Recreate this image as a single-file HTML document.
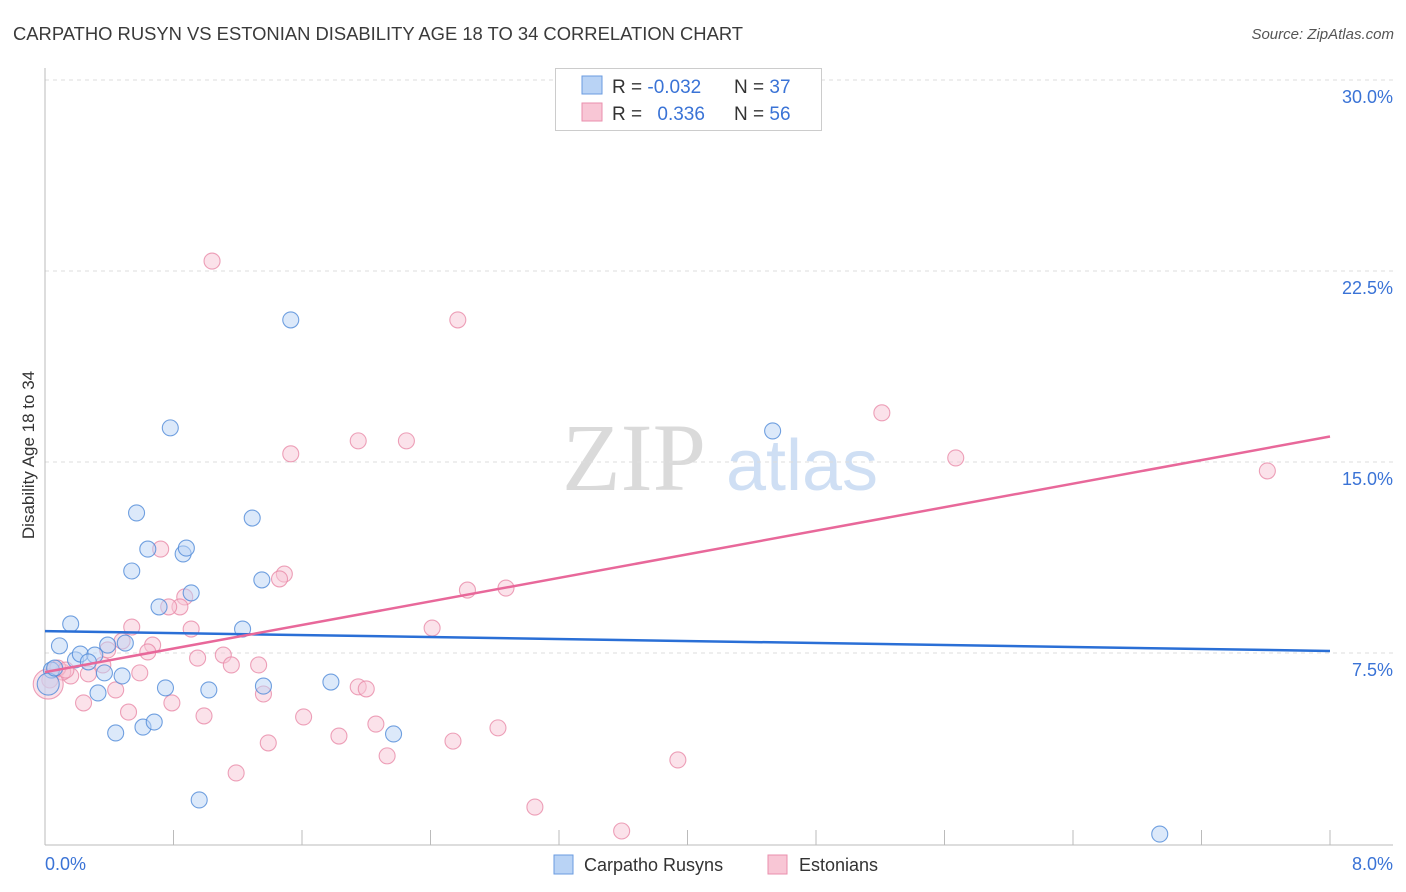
<!DOCTYPE html>
<html><head><meta charset="utf-8"><style>
body{margin:0;background:#fff;font-family:"Liberation Sans",sans-serif;}
#wrap{position:relative;width:1406px;height:892px;overflow:hidden;}
</style></head><body>
<div id="wrap">
<svg id="svg" width="1406" height="892" xmlns="http://www.w3.org/2000/svg">
<text x="13" y="40" font-size="18.4" fill="#3a3a3a">CARPATHO RUSYN VS ESTONIAN DISABILITY AGE 18 TO 34 CORRELATION CHART</text>
<text x="1394" y="39" font-size="15" fill="#555" font-style="italic" text-anchor="end">Source: ZipAtlas.com</text>
<text x="634" y="490" font-size="96" fill="#dadada" font-family="Liberation Serif,serif" text-anchor="middle">ZIP</text>
<text x="802" y="490" font-size="72" fill="#cfdff4" text-anchor="middle">atlas</text>
<text transform="translate(34,455) rotate(-90)" font-size="17" fill="#333" text-anchor="middle">Disability Age 18 to 34</text>
<g id="grid"></g><g id="axes"></g><g id="pts"></g><g id="lines"></g>
<g>
<rect x="555.5" y="68.5" width="266" height="62" fill="#fff" stroke="#ccc"/>
<rect x="582" y="76" width="20" height="18" fill="#b9d3f5" stroke="#6a9be0"/>
<rect x="582" y="103" width="20" height="18" fill="#f8c6d5" stroke="#ea8fad"/>
<text x="612" y="93" font-size="19" fill="#333">R = <tspan fill="#3a73d6">-0.032</tspan></text>
<text x="734" y="93" font-size="19" fill="#333">N = <tspan fill="#3a73d6">37</tspan></text>
<text x="612" y="120" font-size="19" fill="#333">R = <tspan fill="#3a73d6" dx="10">0.336</tspan></text>
<text x="734" y="120" font-size="19" fill="#333">N = <tspan fill="#3a73d6">56</tspan></text>
</g>
<g>
<rect x="554" y="855" width="19" height="19" fill="#b9d3f5" stroke="#6a9be0"/>
<text x="584" y="871" font-size="18" fill="#333">Carpatho Rusyns</text>
<rect x="768" y="855" width="19" height="19" fill="#f8c6d5" stroke="#ea8fad"/>
<text x="799" y="871" font-size="18" fill="#333">Estonians</text>
</g>
</svg>
</div>
<script>
const yTicks=[7.5,15,22.5,30];
const yTickLabels=["7.5%","15.0%","22.5%","30.0%"];
const xTicks=[0,0.8,1.6,2.4,3.2,4,4.8,5.6,6.4,7.2,8];
const blueX=[.04,.09,.16,.19,.22,.31,.33,.37,.39,.44,.48,.50,.54,.57,.61,.64,.68,.71,.75,.78,.86,.88,.91,.96,1.02,1.23,1.29,1.35,1.36,1.53,1.78,2.17,4.53,6.94,.02,.06,.27];
const blueY=[6.83,7.78,8.64,7.23,7.46,7.42,5.93,6.72,7.81,4.36,6.60,7.89,10.72,13.00,4.59,11.58,4.79,9.31,6.13,16.34,11.39,11.62,9.86,1.73,6.05,8.44,12.80,10.37,6.20,20.58,6.36,4.32,16.22,0.39,6.28,6.91,7.15];
const pinkX=[1.04,2.57,5.21,5.67,7.61,1.95,2.25,1.53,.72,1.49,1.46,2.63,2.87,.87,.84,.77,2.41,.91,.54,.67,.48,.64,1.11,.95,1.16,1.33,.36,.27,.16,.11,.06,.03,.59,.44,1.95,2.00,1.36,.79,.24,.52,1.61,.99,2.06,2.82,1.83,1.39,2.54,2.13,3.94,1.19,3.05,3.59,.02,.08,.13,.39];
const pinkY=[22.89,20.58,16.93,15.16,14.65,15.83,15.83,15.32,11.58,10.60,10.41,9.97,10.05,9.70,9.31,9.31,8.48,8.44,8.52,7.81,7.97,7.54,7.42,7.30,7.03,7.03,7.03,6.68,6.60,6.75,6.83,6.44,6.72,6.05,6.17,6.09,5.89,5.54,5.54,5.18,4.99,5.03,4.71,4.56,4.24,3.97,4.04,3.46,3.30,2.79,1.45,0.51,6.28,6.91,6.83,7.62];
const blueTrend=[8.36,7.58];
const pinkTrend=[6.75,16.0];
const NS="http://www.w3.org/2000/svg";
function sx(v){return 45+v/8*1285;}
function sy(v){return 844-v/7.5*191;}
function mk(t,a,p){const e=document.createElementNS(NS,t);for(const k in a)e.setAttribute(k,a[k]);p.appendChild(e);return e;}
const grid=document.getElementById('grid'),axes=document.getElementById('axes'),pts=document.getElementById('pts'),lines=document.getElementById('lines');
yTicks.forEach((v,i)=>{
 const l=mk('line',{x1:45,x2:1393,y1:sy(v),y2:sy(v),stroke:'#ddd','stroke-dasharray':'4,4'},grid);
 
 
 const t=mk('text',{x:1393,y:sy(v)+23,'font-size':18,fill:'#3a73d6','text-anchor':'end'},grid);
 t.textContent=yTickLabels[i];
 
 
});
const ya=mk('line',{x1:45,x2:45,y1:68,y2:845,stroke:'#bbb'},axes);


const xa=mk('line',{x1:45,x2:1393,y1:845,y2:845,stroke:'#bbb'},axes);


xTicks.forEach(v=>{
 const t=mk('line',{x1:sx(v),x2:sx(v),y1:830,y2:845,stroke:'#bbb'},axes);
 
 
});
const xl0=mk('text',{x:45,y:870,'font-size':18,fill:'#3a73d6'},axes);xl0.textContent='0.0%';


const xl1=mk('text',{x:1393,y:870,'font-size':18,fill:'#3a73d6','text-anchor':'end'},axes);xl1.textContent='8.0%';


function dots(X,Y,fill,stroke,name){X.forEach((x,i)=>{
 const r=(i===X.length-(name==='pink-point'?4:3))?(name==='pink-point'?15:11):8;
 const c=mk('circle',{cx:sx(x),cy:sy(Y[i]),r:r,fill:fill,'fill-opacity':0.5,stroke:stroke,'stroke-opacity':0.8,'stroke-width':1.1},pts);
 
 
});}
dots(pinkX,pinkY,'#f8c6d5','#e88aa8','pink-point');
dots(blueX,blueY,'#b9d3f5','#4f8ad8','blue-point');
const bl=mk('line',{x1:sx(0),y1:sy(blueTrend[0]),x2:sx(8),y2:sy(blueTrend[1]),stroke:'#2a6fd6','stroke-width':2.5},lines);


const pl=mk('line',{x1:sx(0),y1:sy(pinkTrend[0]),x2:sx(8),y2:sy(pinkTrend[1]),stroke:'#e8689a','stroke-width':2.5},lines);


</script>
</body></html>
